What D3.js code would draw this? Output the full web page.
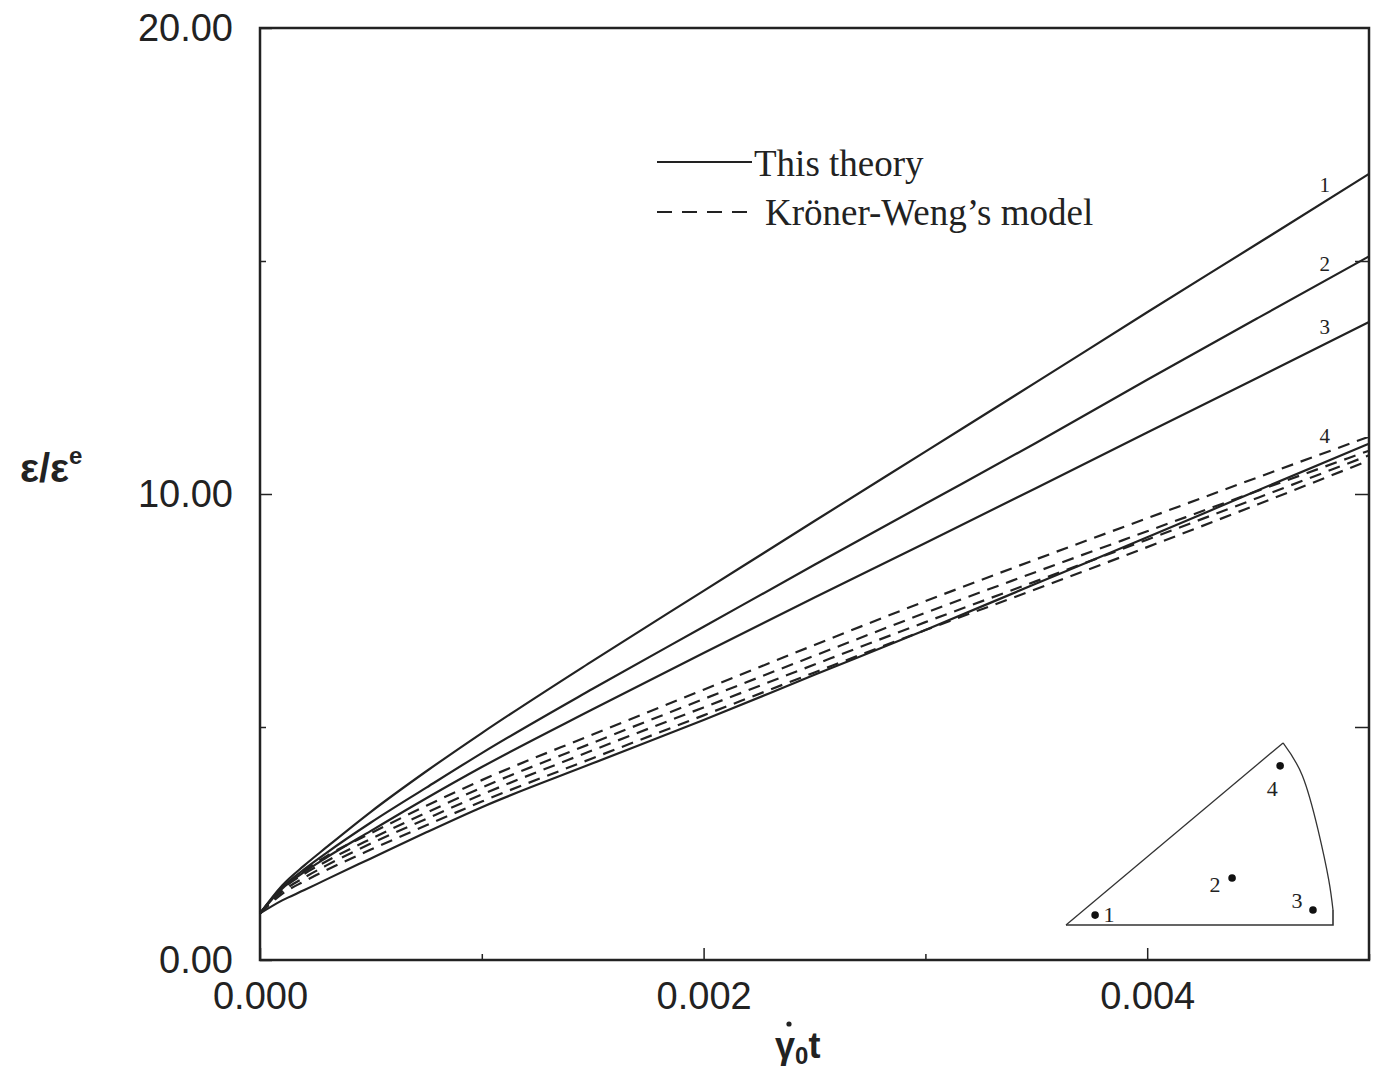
<!DOCTYPE html>
<html>
<head>
<meta charset="utf-8">
<script src="https://cdn.jsdelivr.net/npm/d3@7"></script>
<style>
  html, body { margin: 0; padding: 0; background: #fff; }
  svg { display: block; }
</style>
</head>
<body>
<svg id="chart" width="1384" height="1074"></svg>
<script>
// ---------- data ----------
const tValues = [0, 0.0001, 0.0002, 0.0003, 0.0005, 0.00075, 0.001, 0.0015, 0.002, 0.0025, 0.003, 0.0035, 0.004, 0.0045, 0.005];

// "This theory" (solid)
const theory1 = [1, 1.60, 2.03, 2.42, 3.18, 4.05, 4.87, 6.42, 7.92, 9.42, 10.91, 12.40, 13.90, 15.38, 16.87];
const theory2 = [1, 1.56, 1.95, 2.30, 2.95, 3.70, 4.44, 5.82, 7.15, 8.48, 9.79, 11.10, 12.45, 13.78, 15.10];
const theory3 = [1, 1.53, 1.89, 2.20, 2.77, 3.47, 4.14, 5.38, 6.59, 7.78, 8.95, 10.13, 11.32, 12.50, 13.69];
const theory4 = [1, 1.28, 1.50, 1.73, 2.18, 2.74, 3.28, 4.22, 5.15, 6.12, 7.08, 8.08, 9.07, 10.08, 11.08];

// "Kröner-Weng's model" (dashed)
const kw1 = [1, 1.55, 1.92, 2.23, 2.72, 3.31, 3.86, 4.84, 5.80, 6.76, 7.70, 8.60, 9.48, 10.36, 11.23];
const kw2 = [1, 1.52, 1.85, 2.12, 2.60, 3.16, 3.70, 4.66, 5.60, 6.53, 7.45, 8.33, 9.20, 10.07, 10.93];
const kw3 = [1, 1.47, 1.77, 2.03, 2.50, 3.03, 3.55, 4.50, 5.42, 6.34, 7.25, 8.13, 9.02, 9.92, 10.83];
const kw4 = [1, 1.42, 1.69, 1.93, 2.37, 2.89, 3.40, 4.33, 5.25, 6.17, 7.08, 7.96, 8.86, 9.78, 10.72];

const curveLabels = ["1", "2", "3", "4"];

const xMajorTicks = [0, 0.002, 0.004];
const xMinorTicks = [0.001, 0.003, 0.005];
const yMajorTicks = [0, 10, 20];
const yMinorTicks = [5, 15];

const legendLabels = ["This theory", "Kröner-Weng\u2019s model"];

// inset (standard triangle) in local normalised units
const insetOutline = [[0, 0], [0.813, 0.682]];
const insetArc = [[0.813, 0.682], [0.885, 0.56], [0.944, 0.356], [0.984, 0.169], [1.0, 0.056]];
const insetBase = [[1.0, 0.056], [1.0, 0], [0, 0]];
const insetPoints = [[0.109, 0.037], [0.622, 0.176], [0.925, 0.056], [0.802, 0.596]];
const insetLabels = ["1", "2", "3", "4"];

// ---------- layout ----------
const svg = d3.select("#chart");
const L = 260, R = 1369, T = 28, B = 960;

const x = d3.scaleLinear().domain([0, 0.005]).range([L, R]);
const y = d3.scaleLinear().domain([0, 20]).range([B, T]);

const sans = "'Liberation Sans', Arial, Helvetica, sans-serif";
const serif = "'Liberation Serif', 'Times New Roman', serif";

// frame
svg.append("rect")
  .attr("x", L).attr("y", T).attr("width", R - L).attr("height", B - T)
  .attr("fill", "none").attr("stroke", "#222").attr("stroke-width", 2.5);

// ticks (inward)
const gx = svg.append("g").attr("transform", `translate(0,${B})`)
  .call(d3.axisBottom(x).tickValues(xMajorTicks).tickSize(-12).tickFormat(d3.format(".3f")).tickPadding(22));
gx.select(".domain").remove();
gx.selectAll("line").attr("stroke", "#222").attr("stroke-width", 1.5);
gx.selectAll("text").attr("font-family", sans).attr("font-size", 38).attr("fill", "#222");

const gxm = svg.append("g").attr("transform", `translate(0,${B})`)
  .call(d3.axisBottom(x).tickValues(xMinorTicks).tickSize(-6).tickFormat(""));
gxm.select(".domain").remove();
gxm.selectAll("line").attr("stroke", "#222").attr("stroke-width", 1.5);

const gy = svg.append("g").attr("transform", `translate(${L},0)`)
  .call(d3.axisLeft(y).tickValues(yMajorTicks).tickSize(-12).tickFormat(d3.format(".2f")).tickPadding(27));
gy.select(".domain").remove();
gy.selectAll("line").attr("stroke", "#222").attr("stroke-width", 1.5);
gy.selectAll("text").attr("font-family", sans).attr("font-size", 38).attr("fill", "#222");

const gym = svg.append("g").attr("transform", `translate(${L},0)`)
  .call(d3.axisLeft(y).tickValues(yMinorTicks).tickSize(-6).tickFormat(""));
gym.select(".domain").remove();
gym.selectAll("line").attr("stroke", "#222").attr("stroke-width", 1.5);

const gyr = svg.append("g").attr("transform", `translate(${R},0)`)
  .call(d3.axisRight(y).tickValues([5, 10, 15]).tickSize(-14).tickFormat(""));
gyr.select(".domain").remove();
gyr.selectAll("line").attr("stroke", "#222").attr("stroke-width", 1.5);

// curves
const line = d3.line()
  .x((d, i) => x(tValues[i]))
  .y(d => y(d))
  .curve(d3.curveMonotoneX);

const plot = svg.append("g");
[kw1, kw2, kw3, kw4].forEach(s => {
  plot.append("path").attr("d", line(s))
    .attr("fill", "none").attr("stroke", "#222").attr("stroke-width", 2.2)
    .attr("stroke-dasharray", "12,8");
});
[theory1, theory2, theory3, theory4].forEach(s => {
  plot.append("path").attr("d", line(s))
    .attr("fill", "none").attr("stroke", "#222").attr("stroke-width", 2.2);
});

// curve labels near right edge, placed just above their curve
const labelT = 0.0048;
const n = tValues.length;
const valAt = s => {
  const t0 = tValues[n - 2], t1 = tValues[n - 1];
  return s[n - 2] + (s[n - 1] - s[n - 2]) * (labelT - t0) / (t1 - t0);
};
const labelVals = [theory1, theory2, theory3, kw1].map(valAt);
svg.selectAll("text.clabel").data(curveLabels).enter().append("text")
  .attr("class", "clabel")
  .attr("x", x(labelT))
  .attr("y", (d, i) => y(labelVals[i]) - 10)
  .attr("font-family", serif).attr("font-size", 21).attr("fill", "#222")
  .attr("text-anchor", "middle")
  .text(d => d);

// legend
const lg = svg.append("g");
lg.append("line").attr("x1", 657).attr("x2", 752).attr("y1", 162).attr("y2", 162)
  .attr("stroke", "#222").attr("stroke-width", 2.2);
lg.append("line").attr("x1", 657).attr("x2", 752).attr("y1", 212).attr("y2", 212)
  .attr("stroke", "#222").attr("stroke-width", 2.2).attr("stroke-dasharray", "15,10");
lg.append("text").attr("x", 754).attr("y", 176).text(legendLabels[0])
  .attr("font-family", serif).attr("font-size", 37).attr("fill", "#222");
lg.append("text").attr("x", 765).attr("y", 225).text(legendLabels[1])
  .attr("font-family", serif).attr("font-size", 37).attr("fill", "#222");

// axis titles
const yt = svg.append("text").attr("x", 20).attr("y", 482)
  .attr("font-family", sans).attr("font-weight", "bold").attr("font-size", 40).attr("fill", "#222");
yt.append("tspan").text("\u03b5/\u03b5");
yt.append("tspan").attr("dy", -18).attr("font-size", 24).text("e");

const xt = svg.append("g");
xt.append("text").attr("x", 775).attr("y", 1058)
  .attr("font-family", sans).attr("font-weight", "bold").attr("font-size", 36).attr("fill", "#222")
  .call(t => {
    t.append("tspan").text("\u03b3");
    t.append("tspan").attr("dy", 6).attr("font-size", 24).text("0");
    t.append("tspan").attr("dy", -6).text("t");
  });
// dot accent over gamma (gamma-dot)
xt.append("circle").attr("cx", 789).attr("cy", 1024).attr("r", 2.6).attr("fill", "#222");

// inset: standard triangle
const ix = d3.scaleLinear().domain([0, 1]).range([1066, 1333]);
const iy = d3.scaleLinear().domain([0, 1]).range([925, 658]);
const ig = svg.append("g");
const iline = d3.line().x(d => ix(d[0])).y(d => iy(d[1]));
ig.append("path").attr("d", iline(insetOutline)).attr("fill", "none").attr("stroke", "#333").attr("stroke-width", 1.3);
ig.append("path").attr("d", d3.line().x(d => ix(d[0])).y(d => iy(d[1])).curve(d3.curveNatural)(insetArc))
  .attr("fill", "none").attr("stroke", "#333").attr("stroke-width", 1.3);
ig.append("path").attr("d", iline(insetBase)).attr("fill", "none").attr("stroke", "#333").attr("stroke-width", 1.6);
ig.selectAll("circle").data(insetPoints).enter().append("circle")
  .attr("cx", d => ix(d[0])).attr("cy", d => iy(d[1])).attr("r", 3.8).attr("fill", "#111");
const insetLabelOffsets = [[14, 7], [-17, 14], [-16, -2], [-8, 30]];
ig.selectAll("text").data(insetLabels).enter().append("text")
  .attr("x", (d, i) => ix(insetPoints[i][0]) + insetLabelOffsets[i][0])
  .attr("y", (d, i) => iy(insetPoints[i][1]) + insetLabelOffsets[i][1])
  .attr("font-family", serif).attr("font-size", 22).attr("fill", "#222").attr("text-anchor", "middle")
  .text(d => d);
</script>
</body>
</html>
